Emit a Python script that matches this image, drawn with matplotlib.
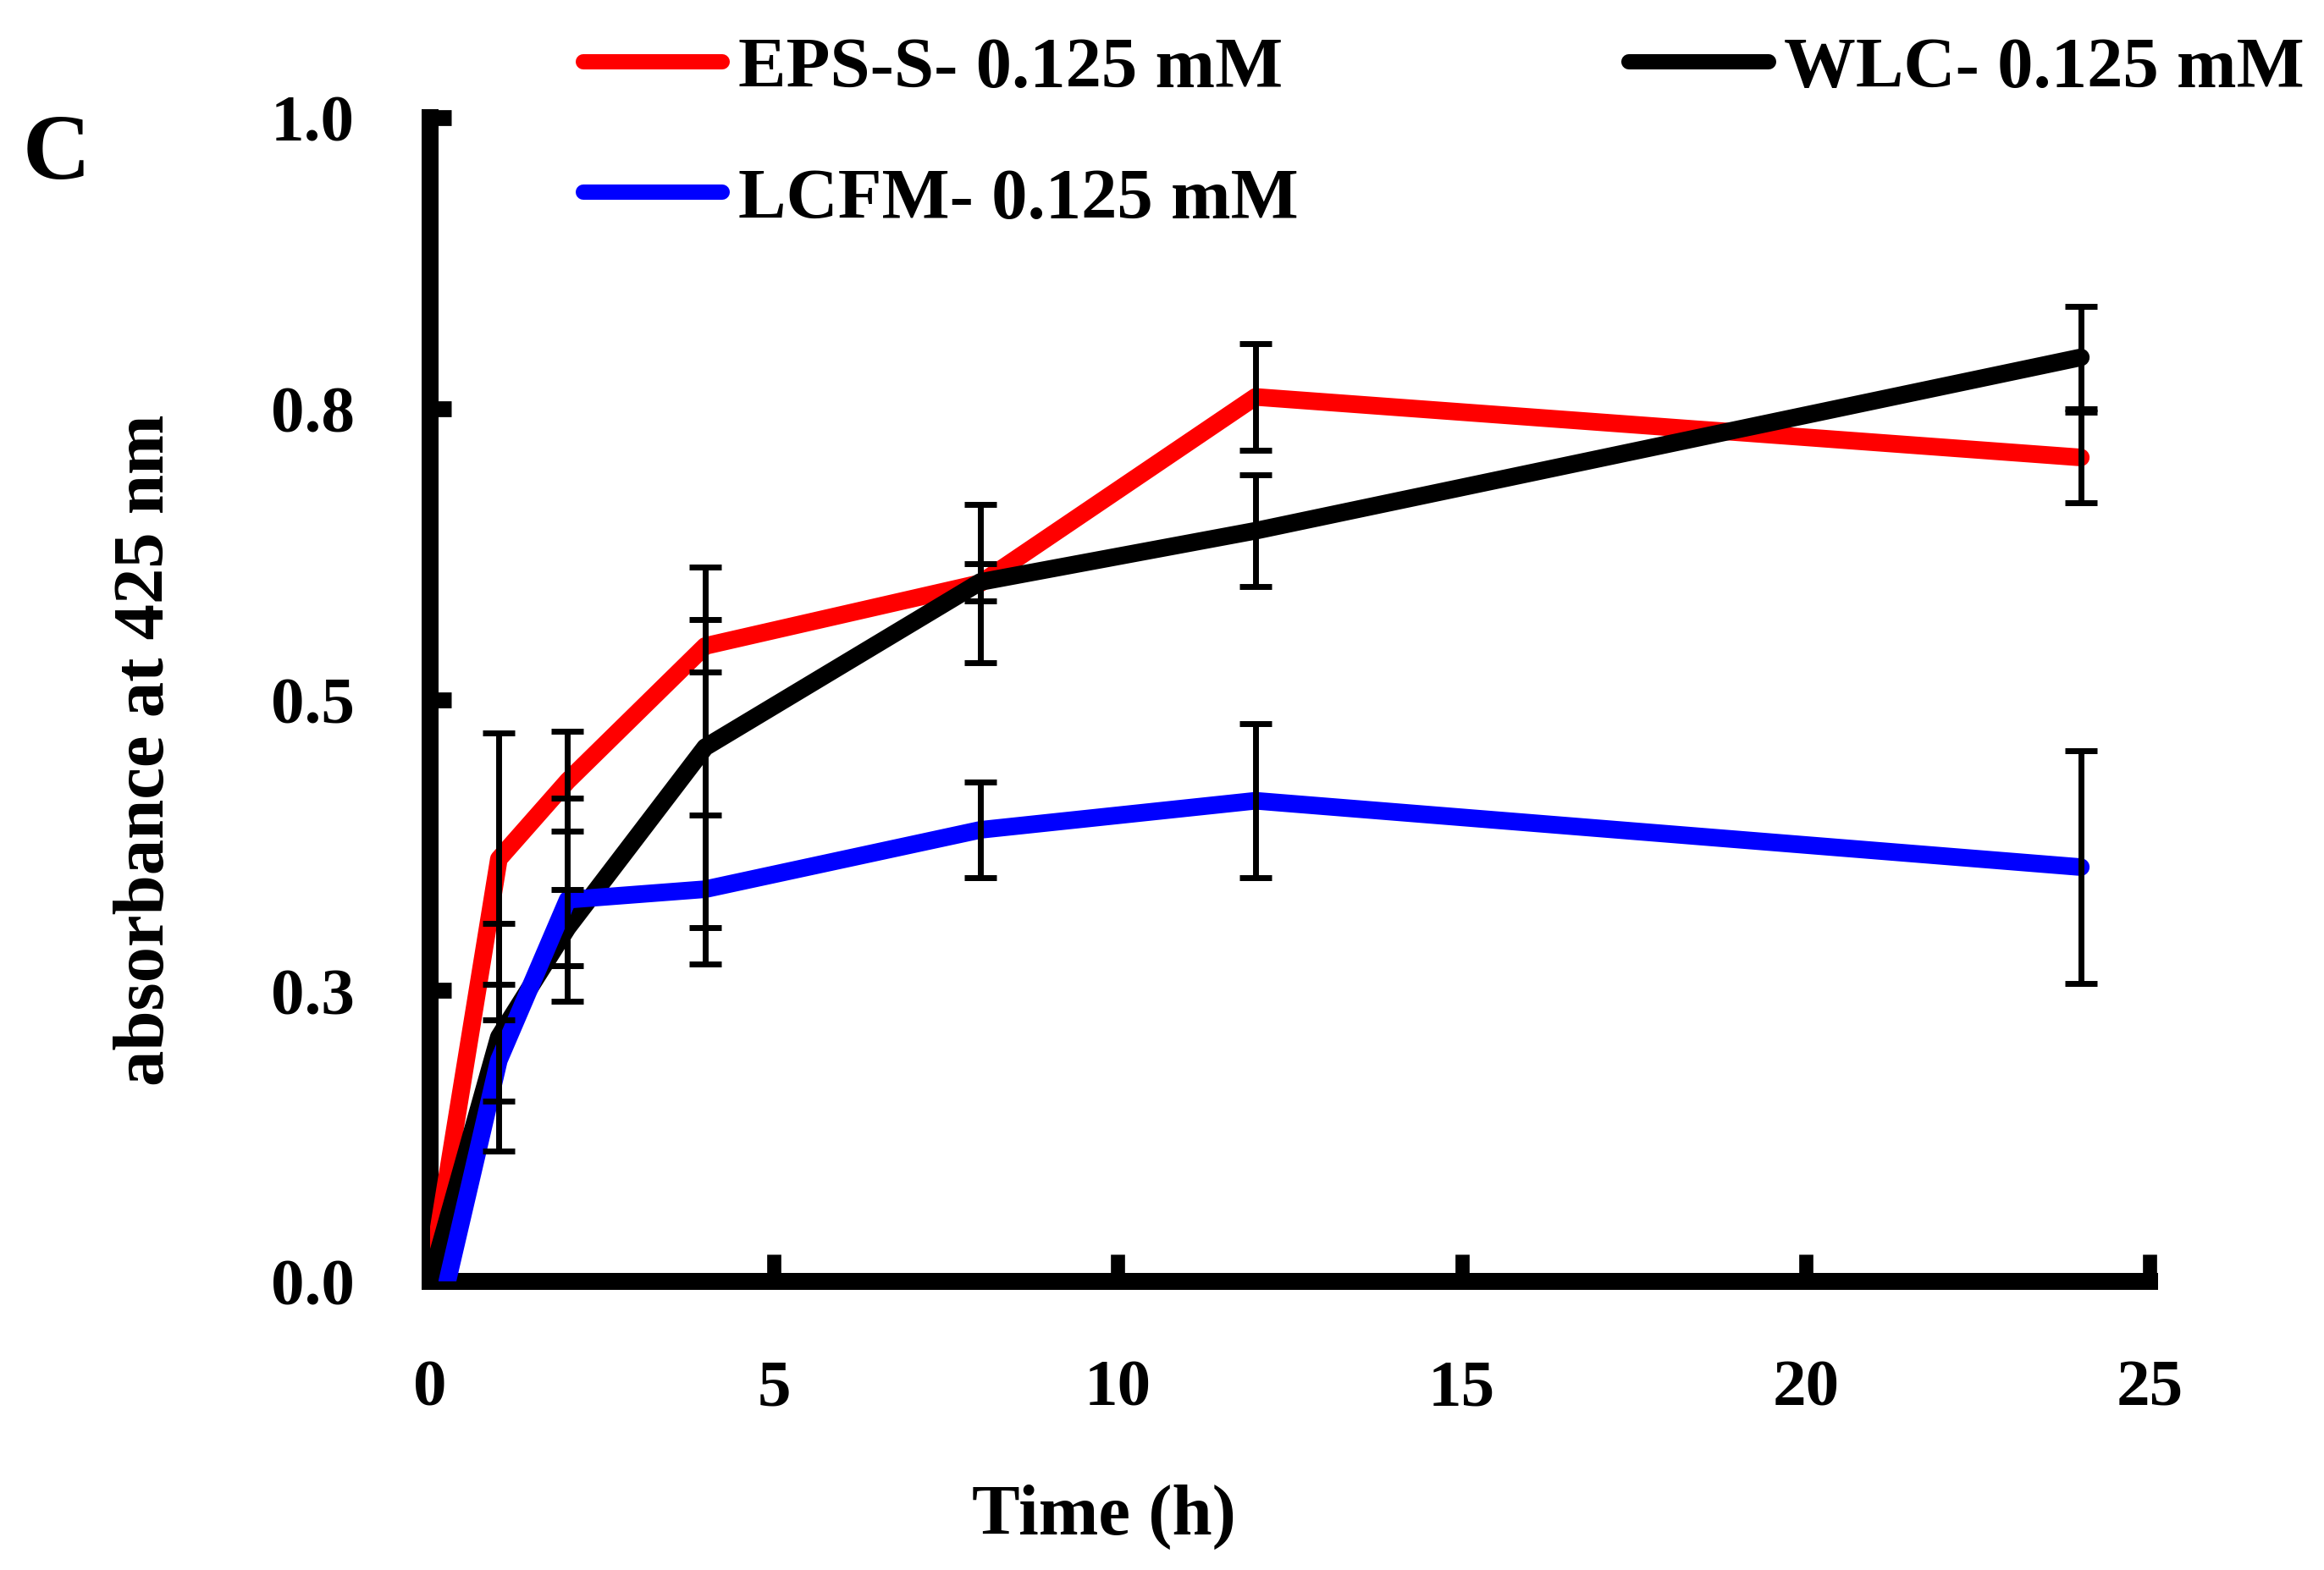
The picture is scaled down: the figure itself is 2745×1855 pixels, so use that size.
import matplotlib
matplotlib.use("Agg")
import matplotlib.pyplot as plt

plt.rcParams['font.family'] = ['Liberation Serif', 'DejaVu Serif']
plt.rcParams['font.weight'] = 'bold'

# ---- data ----
time_h = [0, 1, 2, 4, 8, 12, 24]
time_lcfm = [0.25, 1, 2, 4, 8, 12, 24]

eps_s = [0.0, 0.363, 0.430, 0.546, 0.600, 0.760, 0.708]
eps_s_err = [0.0, 0.108, 0.043, 0.0225, 0.068, 0.046, 0.039]

wlc = [0.0, 0.210, 0.304, 0.459, 0.601, 0.645, 0.794]
wlc_err = [0.0, 0.098, 0.033, 0.155, 0.016, 0.048, 0.044]

lcfm = [0.0, 0.190, 0.328, 0.337, 0.388, 0.413, 0.356]
lcfm_err = [0.0, 0.035, 0.087, 0.064, 0.041, 0.066, 0.100]

labels = ['EPS-S- 0.125 mM', 'LCFM- 0.125 mM', 'WLC- 0.125 mM']
xticks = [0, 5, 10, 15, 20, 25]
yticks = [0, 0.25, 0.5, 0.75, 1.0]
ytick_labels = ['0.0', '0.3', '0.5', '0.8', '1.0']

# ---- figure ----
W, H = 2745, 1856
fig = plt.figure(figsize=(W / 100, H / 100), dpi=100)
ax = fig.add_axes([508 / W, 1 - 1515 / H, (2539 - 508) / W, (1515 - 140) / H])

lw = 15
line_kw = dict(lw=lw, solid_capstyle='round', solid_joinstyle='round')
l_red, = ax.plot(time_h, eps_s, color='#ff0000', zorder=3, **line_kw)
l_blk, = ax.plot(time_h, wlc, color='#000000', zorder=4, **line_kw)
l_blu, = ax.plot(time_lcfm, lcfm, color='#0000ff', zorder=5, **line_kw)

for xs, ys, es in [(time_h, eps_s, eps_s_err), (time_h, wlc, wlc_err), (time_lcfm, lcfm, lcfm_err)]:
    ax.errorbar(xs[1:], ys[1:], yerr=es[1:], fmt='none', ecolor='black',
                elinewidth=5, capsize=14, capthick=5, zorder=7, clip_on=False)

ax.set_xlim(0, 25)
ax.set_ylim(0, 1.0)
ax.set_xticks(xticks)
ax.set_xticklabels([str(t) for t in xticks])
ax.set_yticks(yticks)
ax.set_yticklabels(ytick_labels)

for s in ['top', 'right']:
    ax.spines[s].set_visible(False)
for s in ['left', 'bottom']:
    ax.spines[s].set_linewidth(14.4)
    ax.spines[s].set_color('black')

ax.tick_params(axis='y', direction='in', length=18, width=13.5, pad=64, labelsize=57)
ax.tick_params(axis='x', direction='in', length=23, width=12, pad=66, labelsize=57)
for t in ax.get_xticklabels() + ax.get_yticklabels():
    t.set_fontweight('bold')

ax.set_xlabel('Time (h)', fontsize=61, fontweight='bold', va='baseline')
ax.xaxis.set_label_coords((1304 - 508) / (2539 - 508), (1515 - 1813) / (1515 - 140))
ax.set_ylabel('absorbance at 425 nm', fontsize=61, fontweight='bold', va='baseline')
ax.yaxis.set_label_coords((193 - 508) / (2539 - 508), (1515 - 886) / (1515 - 140))

fig.text(27 / W, 1 - 211 / H, 'C', fontsize=80, fontweight='bold', ha='left', va='baseline')

leg = ax.legend([l_red, l_blu, l_blk], labels, ncol=2, loc='upper left',
                bbox_to_anchor=(689 / W, 1 - 44 / H), bbox_transform=fig.transFigure,
                frameon=False, borderpad=0, borderaxespad=0, handlelength=1.94,
                handletextpad=0.22, columnspacing=4.61, labelspacing=0.91,
                prop={'family': ['Liberation Serif'], 'weight': 'bold', 'size': 61})
for h in leg.legend_handles:
    h.set_linewidth(13)

fig.savefig('out.png', dpi=100)
